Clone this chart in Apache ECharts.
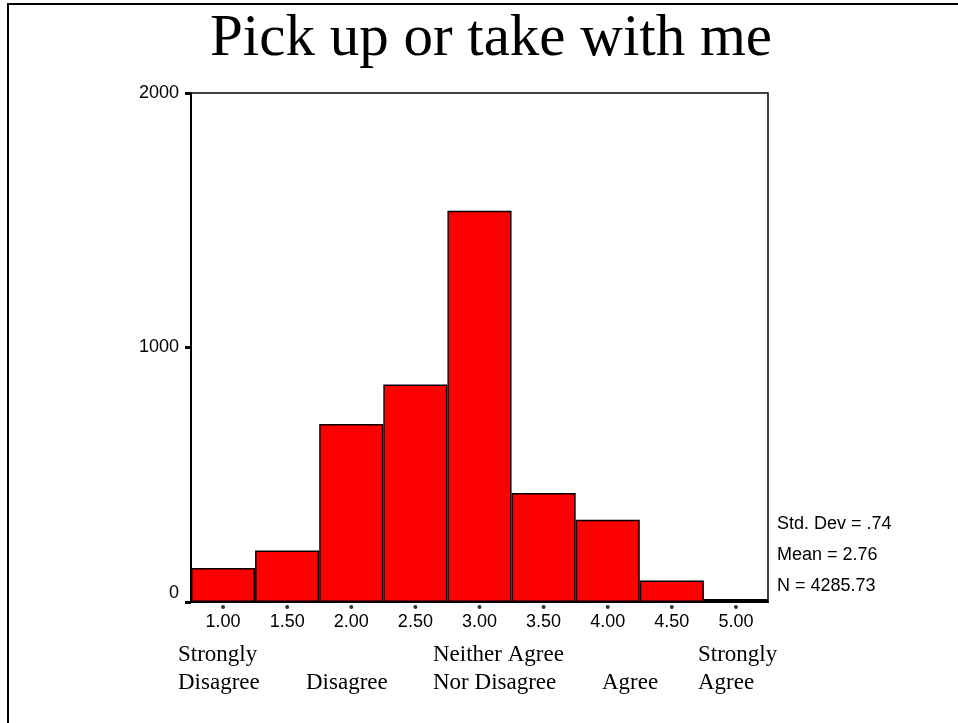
<!DOCTYPE html>
<html>
<head>
<meta charset="utf-8">
<script src="https://cdn.jsdelivr.net/npm/echarts@6/dist/echarts.min.js"></script>
<style>
  html, body { margin: 0; padding: 0; background: #fff; }
  #main { width: 958px; height: 723px; }
</style>
</head>
<body>
<div id="main"></div>
<script>
// bin centres and counts
var categories = ['1.00', '1.50', '2.00', '2.50', '3.00', '3.50', '4.00', '4.50', '5.00'];
var counts = [134, 202, 699, 855, 1537, 428, 323, 84, 12];
var yTicks = [0, 1000, 2000];
var stats = ['Std. Dev = .74', 'Mean = 2.76', 'N = 4285.73'];
var anchorTexts = ['Strongly\nDisagree', 'Disagree', 'Neither Agree\nNor Disagree', 'Agree', 'Strongly\nAgree'];

var myChart = echarts.init(document.getElementById('main'));

var serif = '"Liberation Serif", "Times New Roman", serif';
var sans = '"Liberation Sans", Arial, sans-serif';

// 刻度下方的小圆点
var dots = categories.map(function(c) { return [c, 0]; });

var anchorLeft = [178, 306, 433, 602, 698];
var anchorGraphics = anchorTexts.map(function(t, i) {
    if (t.indexOf('\n') < 0) t = '\n' + t;
    return {
        type: 'text',
        left: anchorLeft[i],
        top: 641,
        style: {
            text: t,
            font: '23px ' + serif,
            fill: '#000',
            lineHeight: 28
        }
    };
});

var statGraphics = stats.map(function(s, i) {
    return {
        type: 'text',
        left: 777,
        top: 515 + i * 31,
        style: {
            text: s,
            font: '18px ' + sans,
            fill: '#000'
        }
    };
});

var option = {
    animation: false,
    backgroundColor: '#fff',
    title: {
        text: 'Pick up or take with me',
        left: 486,
        top: 5,
        textAlign: 'center',
        textStyle: {
            fontFamily: serif,
            fontWeight: 'normal',
            fontSize: 59,
            color: '#000'
        }
    },
    grid: {
        left: 191,
        right: 190,
        top: 93,
        bottom: 121,
        show: true,
        borderColor: '#000',
        borderWidth: 1.5,
        backgroundColor: '#fff'
    },
    xAxis: {
        type: 'category',
        data: categories,
        boundaryGap: true,
        axisLine: { show: true, lineStyle: { color: '#000', width: 2 } },
        axisTick: { show: false },
        axisLabel: {
            color: '#000',
            fontFamily: sans,
            fontSize: 18,
            margin: 11
        }
    },
    yAxis: {
        type: 'value',
        min: yTicks[0],
        max: yTicks[yTicks.length - 1],
        interval: 1000,
        splitLine: { show: false },
        axisLine: { show: true, lineStyle: { color: '#000', width: 2 } },
        axisTick: { show: true, length: 6, lineStyle: { color: '#000', width: 3 } },
        axisLabel: {
            color: '#000',
            fontFamily: sans,
            fontSize: 18,
            margin: 12,
            formatter: function(v) { return String(v); },
            verticalAlignMinLabel: 'bottom'
        }
    },
    series: [
        {
            type: 'bar',
            data: counts,
            barWidth: '100%',
            barCategoryGap: 0,
            itemStyle: {
                color: '#ff0000',
                borderColor: '#000',
                borderWidth: 1.5
            }
        },
        {
            type: 'scatter',
            data: dots,
            symbol: 'circle',
            symbolSize: 4,
            symbolOffset: [0, 5],
            clip: false,
            silent: true,
            itemStyle: { color: '#000' }
        }
    ],
    graphic: [
        {
            // 页面左上角的边框线
            type: 'polyline',
            shape: { points: [[8, 723], [8, 4], [958, 4]] },
            style: { fill: 'none', stroke: '#000', lineWidth: 2 },
            silent: true,
            z: -1
        }
    ].concat(anchorGraphics, statGraphics)
};

myChart.setOption(option);
</script>
</body>
</html>
